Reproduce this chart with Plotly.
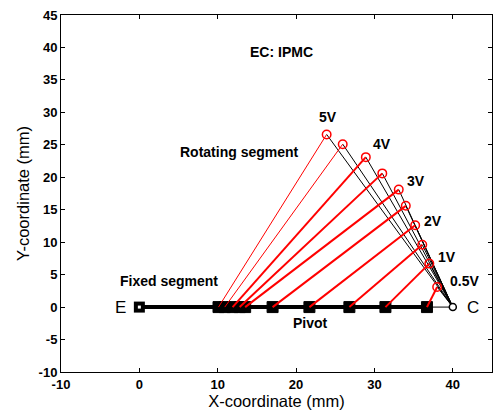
import plotly.graph_objects as go

# ---- data ----
pivot_x = [36.7, 31.4, 26.8, 21.7, 17.0, 13.5, 12.8, 11.9, 10.9, 10.1]
tip_x = [38.0, 37.0, 36.1, 35.2, 34.0, 33.1, 31.0, 28.9, 25.95, 23.9]
tip_y = [3.1, 6.7, 9.6, 12.6, 15.6, 18.1, 20.6, 23.1, 25.1, 26.6]
end_E = (0.0, 0.0)
end_C = (40.0, 0.0)

volt_labels = ["0.5V", "1V", "2V", "3V", "4V", "5V"]
volt_x = [41.5, 39.2, 37.5, 35.3, 30.9, 24.1]
volt_y = [4.0, 7.7, 13.25, 19.4, 25.1, 29.3]

x_ticks = [-10, 0, 10, 20, 30, 40]
y_ticks = list(range(-10, 50, 5))

fig = go.Figure()

# thin baseline E -> C
fig.add_trace(go.Scatter(x=[end_E[0], end_C[0]], y=[end_E[1], end_C[1]], mode="lines",
                         line=dict(color="black", width=1), hoverinfo="skip"))
# thick fixed segment E -> farthest pivot
fig.add_trace(go.Scatter(x=[end_E[0], max(pivot_x)], y=[0, 0], mode="lines",
                         line=dict(color="black", width=4), hoverinfo="skip"))
# black lines tip -> C
bx, by = [], []
for tx, ty in zip(tip_x, tip_y):
    bx += [tx, end_C[0], None]
    by += [ty, end_C[1], None]
fig.add_trace(go.Scatter(x=bx, y=by, mode="lines", line=dict(color="black", width=1),
                         hoverinfo="skip"))
# pivot squares
fig.add_trace(go.Scatter(x=pivot_x, y=[0] * len(pivot_x), mode="markers",
                         marker=dict(symbol="square", size=11, color="black",
                                     line=dict(color="black", width=1))))
# E marker
fig.add_trace(go.Scatter(x=[end_E[0]], y=[end_E[1]], mode="markers",
                         marker=dict(symbol="square", size=11, color="black")))
fig.add_trace(go.Scatter(x=[end_E[0]], y=[end_E[1]], mode="markers",
                         marker=dict(symbol="square", size=3, color="white")))
# red rotating segments
rx1, ry1, rx2, ry2 = [], [], [], []
for i, (px, tx, ty) in enumerate(zip(pivot_x, tip_x, tip_y)):
    if i < 8:
        rx1 += [px, tx, None]; ry1 += [0, ty, None]
    else:
        rx2 += [px, tx, None]; ry2 += [0, ty, None]
fig.add_trace(go.Scatter(x=rx1, y=ry1, mode="lines", line=dict(color="red", width=2)))
fig.add_trace(go.Scatter(x=rx2, y=ry2, mode="lines", line=dict(color="red", width=1)))
# tip circles
fig.add_trace(go.Scatter(x=tip_x, y=tip_y, mode="markers",
                         marker=dict(symbol="circle-open", size=8.5, color="red",
                                     line=dict(width=1.5))))
# C marker
fig.add_trace(go.Scatter(x=[end_C[0]], y=[end_C[1]], mode="markers",
                         marker=dict(symbol="circle", size=7, color="white",
                                     line=dict(color="black", width=1.5))))

bold = dict(family="Liberation Sans, Arial", size=14, color="black")
ann = [
    dict(x=18.2, y=39.3, text="<b>EC: IPMC</b>"),
    dict(x=12.8, y=23.9, text="<b>Rotating segment</b>"),
    dict(x=3.8, y=4.05, text="<b>Fixed segment</b>"),
    dict(x=21.8, y=-2.4, text="<b>Pivot</b>"),
]
for lab, vx, vy in zip(volt_labels, volt_x, volt_y):
    ann.append(dict(x=vx, y=vy, text="<b>%s</b>" % lab))
for a in ann:
    a.update(showarrow=False, font=bold, xanchor="center", yanchor="middle")
ann.append(dict(x=-2.4, y=0, text="E", showarrow=False,
                font=dict(family="Liberation Sans, Arial", size=17, color="black")))
ann.append(dict(x=42.6, y=0, text="C", showarrow=False,
                font=dict(family="Liberation Sans, Arial", size=17, color="black")))

axis_common = dict(showline=True, linecolor="black", linewidth=1, mirror="ticks",
                   ticks="inside", ticklen=4, tickcolor="black", showgrid=False,
                   zeroline=False, automargin=False,
                   tickfont=dict(family="Liberation Sans, Arial", size=13, color="black"))

fig.update_layout(
    width=493, height=415,
    margin=dict(l=61, r=1, t=15, b=43),
    paper_bgcolor="white", plot_bgcolor="white",
    showlegend=False,
    annotations=ann,
    xaxis=dict(range=[-10, 45], tickvals=x_ticks,
               ticktext=["<b>%d</b>" % v for v in x_ticks],
               title=dict(text="X-coordinate (mm)", standoff=2,
                          font=dict(family="Liberation Sans, Arial", size=16.5, color="black")),
               **axis_common),
    yaxis=dict(range=[-10, 45], tickvals=y_ticks,
               ticktext=["<b>%d</b>" % v for v in y_ticks],
               title=dict(text="Y-coordinate (mm)", standoff=4,
                          font=dict(family="Liberation Sans, Arial", size=16.5, color="black")),
               **axis_common),
)

fig.write_html("out.html", config={"displayModeBar": False},
               post_script="document.body.style.margin='0';document.body.style.overflow='hidden';")
